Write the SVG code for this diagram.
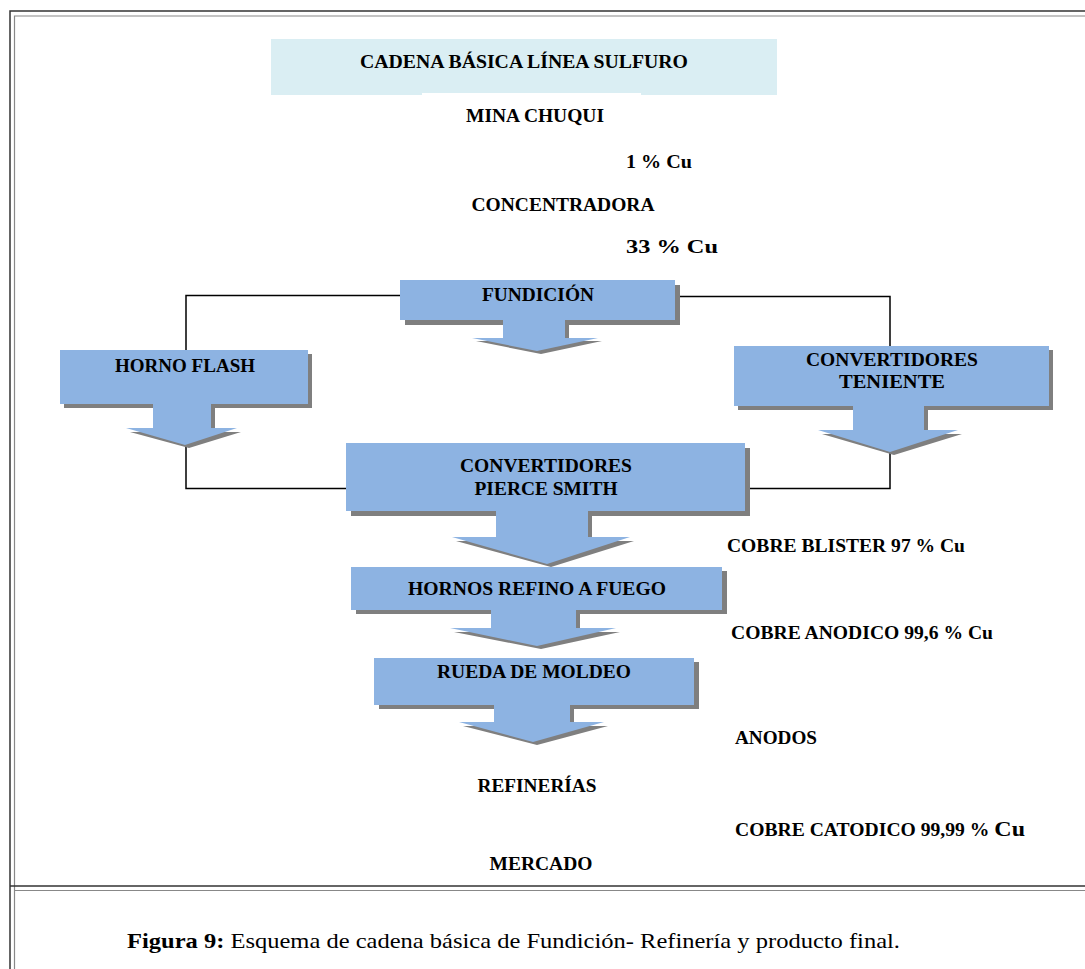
<svg xmlns="http://www.w3.org/2000/svg" width="1085" height="969" viewBox="0 0 1085 969">
<style>
.t{font-family:"Liberation Serif","Times New Roman",serif;font-weight:bold;fill:#000;text-anchor:middle;font-size:18px}
.box{fill:#8db3e2}
.sh{fill:#7f7f7f}
.ln{stroke:#000;stroke-width:1.5;fill:none}
</style>
<rect width="1085" height="969" fill="#fff"/>
<g id="frame" fill="none">
<path d="M10,969 V11 H1085" stroke="#333" stroke-width="1.5"/>
<path d="M14.5,969 V16 H1085" stroke="#888" stroke-width="1.2"/>
<path d="M10,886 H1085" stroke="#333" stroke-width="1.5"/>
<path d="M14.5,890.5 H1085" stroke="#888" stroke-width="1.2"/>
</g>
<g id="title">
<rect x="271" y="39" width="506" height="56" fill="#daeef3"/>
<rect x="422" y="93" width="219" height="3" fill="#fff"/>
<text class="t" x="524" y="68" textLength="328" lengthAdjust="spacingAndGlyphs">CADENA BÁSICA LÍNEA SULFURO</text>
</g>
<g id="connectors">
<path class="ln" d="M400,295.5 H186 V350"/>
<path class="ln" d="M675,296.5 H890 V347"/>
<path class="ln" d="M186,445 V488.5 H347"/>
<path class="ln" d="M890,452 V488.5 H748"/>
</g>
<g id="mina"><text class="t" x="535" y="122" textLength="138" lengthAdjust="spacingAndGlyphs">MINA CHUQUI</text></g>
<g id="cu1"><text class="t" x="659" y="168" font-size="17" textLength="66" lengthAdjust="spacingAndGlyphs">1 % Cu</text></g>
<g id="concentradora"><text class="t" x="563" y="211" textLength="183" lengthAdjust="spacingAndGlyphs">CONCENTRADORA</text></g>
<g id="cu33"><text class="t" x="672" y="253" font-size="23" textLength="92" lengthAdjust="spacingAndGlyphs">33 % Cu</text></g>
<g id="fundicion">
<rect class="sh" x="405" y="285" width="275" height="40"/>
<rect class="box" x="400" y="280" width="275" height="40"/>
<text class="t" x="538" y="301" textLength="112" lengthAdjust="spacingAndGlyphs">FUNDICIÓN</text>
<polygon class="sh" points="507,323 569,323 569,341 602,341 541,354 476,341 507,341"/>
<polygon class="box" points="503,320 565,320 565,338 598,338 537,351 472,338 503,338"/>
</g>
<g id="horno-flash">
<rect class="sh" x="64" y="354" width="248" height="54"/>
<rect class="box" x="60" y="350" width="248" height="54"/>
<text class="t" x="185" y="372" textLength="140" lengthAdjust="spacingAndGlyphs">HORNO FLASH</text>
<polygon class="sh" points="157,407 215,407 215,432 241,432 189,448 130,432 157,432"/>
<polygon class="box" points="153,404 211,404 211,428 237,428 185,445 126,428 153,428"/>
</g>
<g id="convertidores-teniente">
<rect class="sh" x="738" y="350" width="315" height="60"/>
<rect class="box" x="734" y="346" width="315" height="60"/>
<text class="t" x="892" y="366" textLength="172" lengthAdjust="spacingAndGlyphs">CONVERTIDORES</text>
<text class="t" x="892" y="388" textLength="106" lengthAdjust="spacingAndGlyphs">TENIENTE</text>
<polygon class="sh" points="857,409 928,409 928,434 962,434 894,455 822,434 857,434"/>
<polygon class="box" points="853,406 924,406 924,430 958,430 890,452 818,430 853,430"/>
</g>
<g id="pierce-smith">
<rect class="sh" x="351" y="448" width="399" height="68"/>
<rect class="box" x="346" y="443" width="399" height="68"/>
<text class="t" x="546" y="472" textLength="172" lengthAdjust="spacingAndGlyphs">CONVERTIDORES</text>
<text class="t" x="546" y="495" textLength="143" lengthAdjust="spacingAndGlyphs">PIERCE SMITH</text>
<polygon class="sh" points="500,514 592,514 592,541 634,541 551,567 456,541 500,541"/>
<polygon class="box" points="496,511 588,511 588,537 630,537 547,564 452,537 496,537"/>
</g>
<g id="blister"><text class="t" x="846" y="552" textLength="238" lengthAdjust="spacingAndGlyphs">COBRE BLISTER 97 % Cu</text></g>
<g id="refino">
<rect class="sh" x="356" y="571" width="371" height="43"/>
<rect class="box" x="351" y="567" width="371" height="43"/>
<text class="t" x="537" y="595" textLength="258" lengthAdjust="spacingAndGlyphs">HORNOS REFINO A FUEGO</text>
<polygon class="sh" points="495,613 580,613 580,632 620,632 541,649 454,632 495,632"/>
<polygon class="box" points="491,610 576,610 576,628 616,628 537,646 450,628 491,628"/>
</g>
<g id="anodico"><text class="t" x="862" y="639" textLength="262" lengthAdjust="spacingAndGlyphs">COBRE ANODICO 99,6 % Cu</text></g>
<g id="rueda">
<rect class="sh" x="379" y="662" width="320" height="47"/>
<rect class="box" x="374" y="658" width="320" height="47"/>
<text class="t" x="534" y="678" textLength="194" lengthAdjust="spacingAndGlyphs">RUEDA DE MOLDEO</text>
<polygon class="sh" points="498,708 574,708 574,726 608,726 537,745 463,726 498,726"/>
<polygon class="box" points="494,705 570,705 570,722 604,722 533,742 459,722 494,722"/>
</g>
<g id="anodos"><text class="t" x="776" y="744" textLength="82" lengthAdjust="spacingAndGlyphs">ANODOS</text></g>
<g id="refinerias"><text class="t" x="537" y="792" textLength="119" lengthAdjust="spacingAndGlyphs">REFINERÍAS</text></g>
<g id="catodico"><text class="t" x="880" y="836" textLength="290" lengthAdjust="spacingAndGlyphs">COBRE CATODICO 99,99 % <tspan font-size="22">Cu</tspan></text></g>
<g id="mercado"><text class="t" x="541" y="870" textLength="103" lengthAdjust="spacingAndGlyphs">MERCADO</text></g>
<g id="caption"><text x="127" y="948" font-family="'Liberation Serif','Times New Roman',serif" font-size="22" fill="#000" textLength="773" lengthAdjust="spacingAndGlyphs"><tspan font-weight="bold">Figura 9:</tspan> Esquema  de cadena básica de Fundición- Refinería y producto final.</text></g>
</svg>
